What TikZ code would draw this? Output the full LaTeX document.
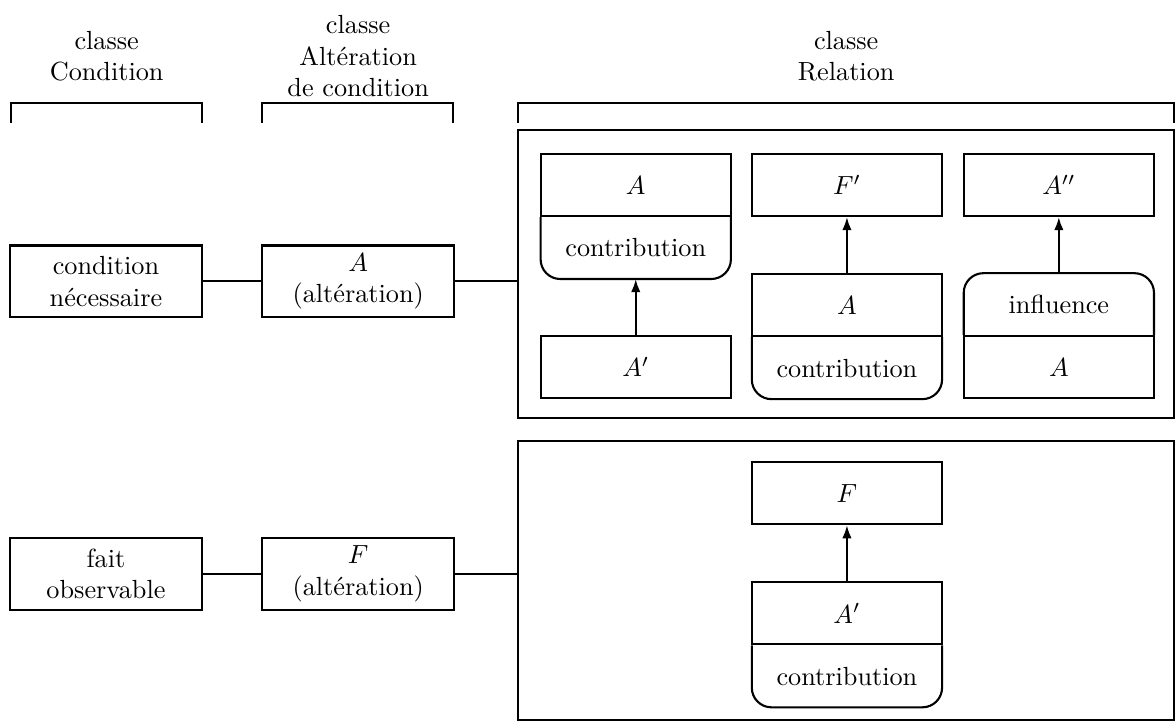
\documentclass[tikz,border=0pt]{standalone}
\usepackage{tikz}
\usetikzlibrary{arrows.meta,positioning}

\begin{document}
\begin{tikzpicture}[
    box/.style={
      draw,
      thick,
      minimum width=2.57cm,
      minimum height=0.96cm,
      align=center,
      inner sep=1pt
    },
    cell/.style={draw, thick, minimum width=2.55cm, minimum height=0.83cm, inner sep=1pt},
    bare/.style={minimum width=2.55cm, minimum height=0.83cm, inner sep=1pt, outer sep=0pt},
    frame/.style={draw, thick, minimum width=8.79cm},
    head/.style={align=center, anchor=south, inner sep=0pt},
    >={Latex[length=5pt,width=3.6pt]}
  ]
    \useasboundingbox (0,0) rectangle (15.76,9.69);

    % column headings
    \node[head] (hcond) at (1.43,8.59)  {classe\\Condition};
    \node[head] (halt) at (4.80,8.38)   {classe\\Altération\\de condition};
    \node[head] (hrel) at (11.34,8.59)  {classe\\Relation};
    \draw[thick] (0.15,8.04) |- (2.71,8.31) -- (2.71,8.04);
    \draw[thick] (3.51,8.04) |- (6.07,8.31) -- (6.07,8.04);
    \draw[thick] (6.94,8.04) |- (15.73,8.31) -- (15.73,8.04);

    % left part
    \node[box] (cond) at (1.42,5.92)  {condition\\nécessaire};
    \node[box] (altA) at (4.80,5.92)  {$A$\\(altération)};
    \node[box] (fait) at (1.42,2.00)  {fait\\observable};
    \node[box] (altF) at (4.80,2.00)  {$F$\\(altération)};

    \node[frame, minimum height=3.86cm] (relA) at (11.34,6.02) {};
    \node[frame, minimum height=3.74cm] (relF) at (11.34,1.91) {};

    \draw[thick] (cond.east) -- (altA.west);
    \draw[thick] (altA.east) -- (altA.east -| relA.west);
    \draw[thick] (fait.east) -- (altF.west);
    \draw[thick] (altF.east) -- (altF.east -| relF.west);

    % relations of A
    \node[cell] (contA) at (8.52,7.21)     {$A$};
    \node[bare, below=0pt of contA.south, anchor=north] (contLbl) {contribution};
    \node[cell] (contAp) at (8.52,4.77)    {$A'$};
    \draw[thick, rounded corners=7.5pt] (contLbl.north west) -- (contLbl.south west) -- (contLbl.south east) -- (contLbl.north east);
    \draw[->, thick] (contAp.north) -- (contLbl.south);

    \node[cell] (effF) at (11.35,7.21)     {$F'$};
    \node[cell] (effA) at (11.35,5.60)     {$A$};
    \node[bare, below=0pt of effA.south, anchor=north] (effLbl) {contribution};
    \draw[thick, rounded corners=7.5pt] (effLbl.north west) -- (effLbl.south west) -- (effLbl.south east) -- (effLbl.north east);
    \draw[->, thick] (effA.north) -- (effF.south);

    \node[cell] (inflApp) at (14.19,7.21)  {$A''$};
    \node[cell] (inflA) at (14.19,4.77)    {$A$};
    \node[bare, above=0pt of inflA.north, anchor=south] (inflLbl) {influence};
    \draw[thick, rounded corners=7.5pt] (inflLbl.south west) -- (inflLbl.north west) -- (inflLbl.north east) -- (inflLbl.south east);
    \draw[->, thick] (inflLbl.north) -- (inflApp.south);

    % relation of F
    \node[cell] (obsF) at (11.35,3.08)     {$F$};
    \node[cell] (obsAp) at (11.35,1.47)    {$A'$};
    \node[bare, below=0pt of obsAp.south, anchor=north] (obsLbl) {contribution};
    \draw[thick, rounded corners=7.5pt] (obsLbl.north west) -- (obsLbl.south west) -- (obsLbl.south east) -- (obsLbl.north east);
    \draw[->, thick] (obsAp.north) -- (obsF.south);
  \end{tikzpicture}
\end{document}
